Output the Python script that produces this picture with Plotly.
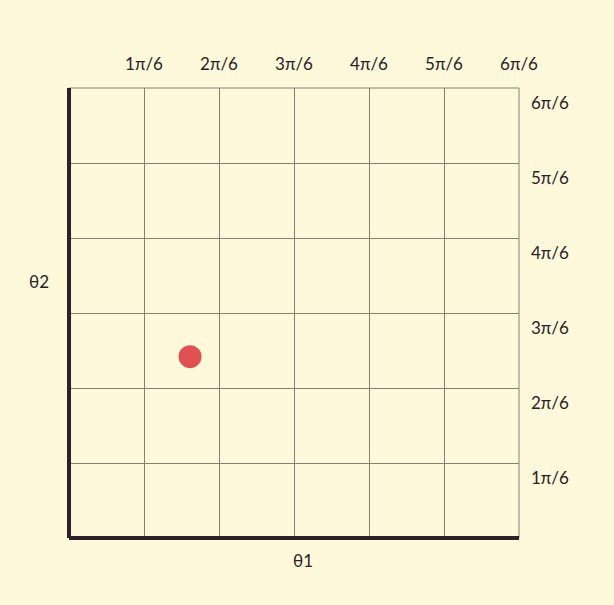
import math
import plotly.graph_objects as go

tick_vals = [k * math.pi / 6 for k in range(1, 7)]
tick_text = ["1π/6", "2π/6", "3π/6", "4π/6", "5π/6", "6π/6"]
theta1 = [0.845]
theta2 = [1.266]

BG = "#fff9db"
TXT = "#2a2027"
GRID = "#8a7e76"
AX = "#2e1f28"
FONT = "Lato"

fig = go.Figure()
fig.add_trace(go.Scatter(
    x=theta1, y=theta2, mode="markers",
    marker=dict(size=23, color="#e05252", line=dict(width=0)),
    hoverinfo="skip", showlegend=False,
))

RNG = [0, math.pi]

fig.update_layout(
    width=614, height=605,
    margin=dict(l=69, r=95, t=88, b=67),
    paper_bgcolor=BG, plot_bgcolor=BG,
    font=dict(family=FONT, size=17, color=TXT),
    showlegend=False,
    xaxis=dict(
        range=RNG, side="top",
        tickvals=tick_vals, ticktext=tick_text,
        showgrid=True, gridcolor=GRID, gridwidth=1,
        zeroline=True, zerolinecolor=AX, zerolinewidth=4,
        showline=False, ticks="", ticklabelstandoff=14,
        fixedrange=True,
    ),
    yaxis=dict(
        range=RNG, side="right",
        tickvals=tick_vals, ticktext=tick_text,
        showgrid=True, gridcolor=GRID, gridwidth=1,
        zeroline=True, zerolinecolor=AX, zerolinewidth=4,
        showline=False, ticks="", ticklabelstandoff=11,
        ticklabelshift=15,
        fixedrange=True,
    ),
    shapes=[
        # outer grid border (top and right edges of the plot area)
        dict(type="line", xref="paper", yref="paper", x0=0, x1=1, y0=1, y1=1,
             line=dict(color=GRID, width=1), layer="below"),
        dict(type="line", xref="paper", yref="paper", x0=1, x1=1, y0=0, y1=1,
             line=dict(color=GRID, width=1), layer="below"),
    ],
    annotations=[
        dict(text="θ1", xref="paper", yref="paper", x=233.5 / 450, y=-22 / 450,
             xanchor="center", yanchor="middle", showarrow=False,
             font=dict(family=FONT, size=17, color=TXT)),
        dict(text="θ2", xref="paper", yref="paper", x=-30 / 450, y=256.5 / 450,
             xanchor="center", yanchor="middle", showarrow=False,
             font=dict(family=FONT, size=17, color=TXT)),
    ],
)

fig.write_html("out.html", config={"displayModeBar": False})

with open("out.html", "r", encoding="utf-8") as f:
    html = f.read()
html = html.replace("<head>", "<head><style>html,body{margin:0;padding:0;background:%s;}</style>" % BG, 1)
with open("out.html", "w", encoding="utf-8") as f:
    f.write(html)
